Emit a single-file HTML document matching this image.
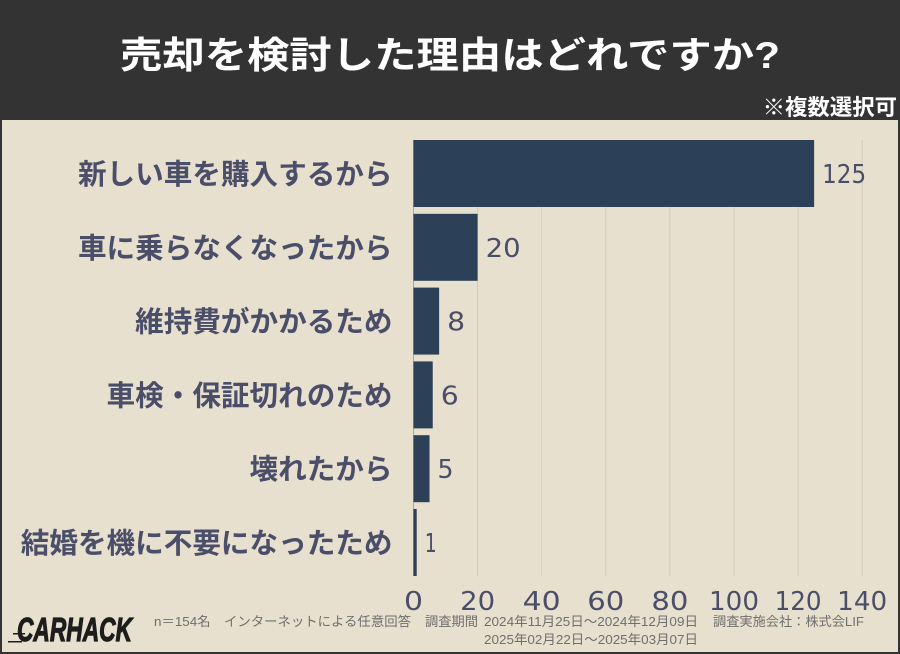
<!DOCTYPE html>
<html lang="ja">
<head>
<meta charset="utf-8">
<title>売却を検討した理由はどれですか?</title>
<style>
html,body{margin:0;padding:0;background:#333}
#stage{position:relative;width:900px;height:654px;overflow:hidden;background:#333}
svg{position:absolute;left:0;top:0;display:block}
text{font-family:"Liberation Sans","Noto Sans CJK JP",sans-serif}
</style>
</head>
<body>
<div id="stage">
<svg id="chart" width="900" height="654" viewBox="0 0 900 654">
  <rect x="0" y="0" width="900" height="654" fill="#333333"/>
  <rect x="2" y="120" width="896" height="532" fill="#e8e0ce"/>
  <text x="450" y="68" text-anchor="middle" font-size="37" font-weight="700" fill="#ffffff" textLength="660" lengthAdjust="spacingAndGlyphs">売却を検討した理由はどれですか?</text>
  <text x="897" y="115" text-anchor="end" font-size="22.4" font-weight="700" fill="#ffffff">※複数選択可</text>
  <g id="grid"></g>
  <g id="bars"></g>
  <g id="cats"></g>
  <g id="vals"></g>
  <g id="ticks"></g>
  <g>
    <text x="17" y="641" font-size="33" font-weight="700" font-style="italic" fill="#1d1d1d" textLength="115" lengthAdjust="spacingAndGlyphs" stroke="#1d1d1d" stroke-width="1.2">CARHACK</text>
    <rect x="13" y="633" width="12" height="1.5" fill="#1d1d1d"/>
    <rect x="8" y="641" width="14" height="1.5" fill="#1d1d1d"/>
  </g>
  <g font-size="13.2" fill="#6f6f6f">
    <text x="154" y="626" textLength="257" lengthAdjust="spacingAndGlyphs">n＝154名　インターネットによる任意回答</text>
    <text x="425" y="626" textLength="53" lengthAdjust="spacingAndGlyphs">調査期間</text>
    <text x="484" y="626" textLength="214" lengthAdjust="spacingAndGlyphs">2024年11月25日～2024年12月09日</text>
    <text x="713" y="626" textLength="151" lengthAdjust="spacingAndGlyphs">調査実施会社：株式会LIF</text>
    <text x="484" y="644" textLength="214" lengthAdjust="spacingAndGlyphs">2025年02月22日～2025年03月07日</text>
  </g>
</svg>
</div>
<script>
const categories = ["新しい車を購入するから","車に乗らなくなったから","維持費がかかるため","車検・保証切れのため","壊れたから","結婚を機に不要になったため"];
const values = [125,20,8,6,5,1];
const tickValues = [0,20,40,60,80,100,120,140];

const NS = "http://www.w3.org/2000/svg";
const plotLeft = 413.5, unitsPerPx = 3.205, plotTop = 140, bandStep = 73.8, barHeight = 67, gridBottom = 576;
const xScale = v => plotLeft + v * unitsPerPx;
const yScale = i => plotTop + i * bandStep;
// Approximate advance of the reference's geometric numerals: narrow 1, wide round digits.
const digitAdvance = {"0":19,"1":12,"2":16,"3":16,"4":19,"5":16,"6":18,"7":16,"8":18,"9":18};
const numberWidth = s => String(s).split("").reduce((sum, c) => sum + digitAdvance[c], 0);

function make(tag, attrs, text) {
  const el = document.createElementNS(NS, tag);
  for (const k in attrs) el.setAttribute(k, attrs[k]);
  if (text !== undefined) el.textContent = text;
  return el;
}

const gridG = document.getElementById("grid");
const ticksG = document.getElementById("ticks");
tickValues.forEach(t => {
  const line = make("line", {x1: xScale(t), x2: xScale(t), y1: plotTop, y2: gridBottom, stroke: t === 0 ? "#a9a69b" : "#d2cbbb", "stroke-width": 1});
  
  
  gridG.appendChild(line);
  const label = make("text", {x: xScale(t), y: 610, "text-anchor": "middle", "font-size": 26, fill: "#4a4e69", textLength: numberWidth(t), lengthAdjust: "spacingAndGlyphs"}, String(t));
  label.style.fontFamily = '"DejaVu Sans",sans-serif';
  
  
  ticksG.appendChild(label);
});

const barsG = document.getElementById("bars");
const catsG = document.getElementById("cats");
const valsG = document.getElementById("vals");
values.forEach((v, i) => {
  const y = yScale(i);
  const bar = make("rect", {x: xScale(0), y: y, width: xScale(v) - xScale(0), height: barHeight, fill: "#2c4057"});
  
  
  barsG.appendChild(bar);
  const cat = make("text", {x: 392.5, y: y + barHeight / 2 + 10.5, "text-anchor": "end", "font-size": 28.6, "font-weight": 700, fill: "#4a4e69"}, categories[i]);
  
  
  catsG.appendChild(cat);
  const val = make("text", {x: xScale(v) + 8, y: y + barHeight / 2 + 9.5, "font-size": 26, fill: "#4a4e69", textLength: numberWidth(v), lengthAdjust: "spacingAndGlyphs"}, String(v));
  val.style.fontFamily = '"DejaVu Sans",sans-serif';
  
  
  valsG.appendChild(val);
});
</script>
</body>
</html>
